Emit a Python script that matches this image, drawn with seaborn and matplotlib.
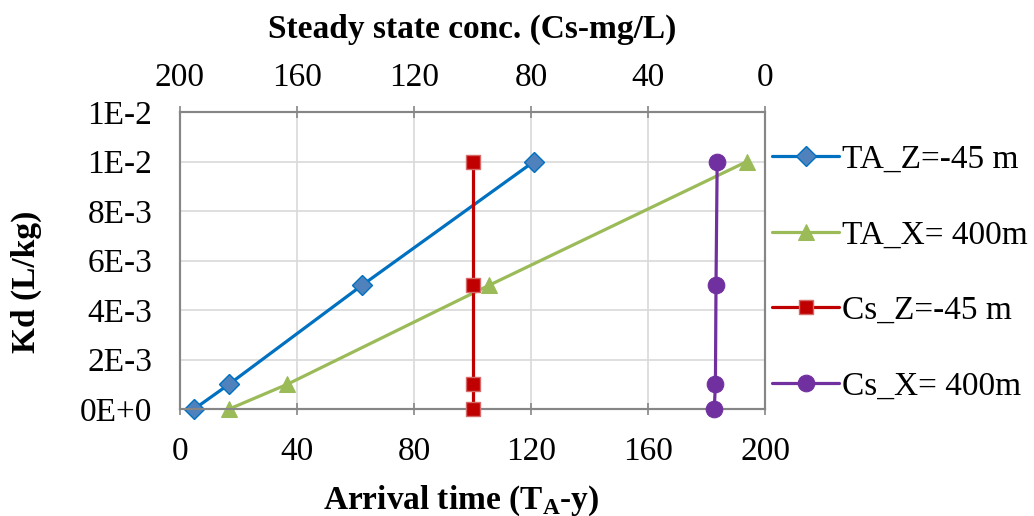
import matplotlib
matplotlib.use("Agg")
import matplotlib.pyplot as plt
import seaborn as sns
import numpy as np
import pandas as pd
from matplotlib.ticker import FuncFormatter, FixedLocator

# ---- data ----
kd_ta_z = [0.0, 0.001, 0.005, 0.010]
ta_z = [4.8, 16.7, 62.2, 121.0]
kd_ta_x = [0.0, 0.001, 0.005, 0.010]
ta_x = [16.7, 36.6, 105.6, 193.8]
kd_cs_z = [0.0, 0.001, 0.005, 0.010]
cs_z = [100.0, 100.0, 100.0, 100.0]
kd_cs_x = [0.0, 0.001, 0.005, 0.010]
cs_x = [17.4, 17.0, 16.8, 16.4]

labels = ["TA_Z=-45 m", "TA_X= 400m", "Cs_Z=-45 m", "Cs_X= 400m"]
bottom_ticks = [0, 40, 80, 120, 160, 200]
top_ticks = [200, 160, 120, 80, 40, 0]
y_ticks = [0.0, 0.002, 0.004, 0.006, 0.008, 0.010, 0.012]

sns.set_theme(style="white")
plt.rcParams["font.family"] = ["Liberation Serif", "DejaVu Serif"]
plt.rcParams["mathtext.fontset"] = "custom"
plt.rcParams["mathtext.rm"] = "Liberation Serif"
plt.rcParams["mathtext.bf"] = "Liberation Serif:bold"
plt.rcParams["text.color"] = "black"
plt.rcParams["axes.labelcolor"] = "black"

FS = 24
fig = plt.figure(figsize=(10.34, 5.16), dpi=100)
ax = fig.add_axes([0.174, 0.207, 0.566, 0.576])
ax2 = ax.twiny()

grid_c = "#D9D9D9"
spine_c = "#868686"

blue, blue_fill = "#0070C0", "#4F81BD"
green = "#9BBB59"
red = "#C00000"
purple = "#7030A0"

df1 = pd.DataFrame({"x": ta_z, "y": kd_ta_z})
df2 = pd.DataFrame({"x": ta_x, "y": kd_ta_x})
df3 = pd.DataFrame({"x": cs_z, "y": kd_cs_z})
df4 = pd.DataFrame({"x": cs_x, "y": kd_cs_x})

common = dict(estimator=None, sort=False, linewidth=2.3, clip_on=False, zorder=5)
sns.lineplot(data=df1, x="x", y="y", ax=ax, color=blue, marker="D",
             markerfacecolor=blue_fill, markeredgecolor=blue, markeredgewidth=1,
             markersize=10, label=labels[0], **common)
sns.lineplot(data=df2, x="x", y="y", ax=ax, color=green, marker="^",
             markerfacecolor=green, markeredgecolor=green, markersize=12,
             label=labels[1], **common)
sns.lineplot(data=df3, x="x", y="y", ax=ax2, color=red, marker="s",
             markerfacecolor=red, markeredgecolor="#D46A6A", markeredgewidth=1,
             markersize=10.5, label=labels[2], **common)
sns.lineplot(data=df4, x="x", y="y", ax=ax2, color=purple, marker="o",
             markerfacecolor=purple, markeredgecolor=purple, markersize=12,
             label=labels[3], **common)

ax.set_xlim(0, 200)
ax.set_ylim(0, 0.012)
ax2.set_xlim(200, 0)
ax.xaxis.set_major_locator(FixedLocator(bottom_ticks))
ax2.xaxis.set_major_locator(FixedLocator(top_ticks))
ax.yaxis.set_major_locator(FixedLocator(y_ticks))

def yfmt(v, pos):
    s = f"{v:.0E}"
    mant, exp = s.split("E")
    sign = exp[0]
    num = str(int(exp[1:]))
    return f"{mant}E{sign}{num}"

ax.yaxis.set_major_formatter(FuncFormatter(yfmt))
ax.xaxis.set_major_formatter(FuncFormatter(lambda v, p: f"{int(v)}"))
ax2.xaxis.set_major_formatter(FuncFormatter(lambda v, p: f"{int(v)}"))

ax.grid(True, color=grid_c, linewidth=1.2)
ax.set_axisbelow(True)
ax2.grid(False)

for a in (ax, ax2):
    for s in a.spines.values():
        s.set_color(spine_c)
        s.set_linewidth(1.5)
    a.tick_params(axis="both", labelsize=FS, labelcolor="black", direction="inout",
                  length=9, width=1.2, color=spine_c)
ax.tick_params(axis="x", pad=15)
ax.tick_params(axis="y", pad=14, direction="out", length=6)
ax2.tick_params(axis="x", pad=9)

ax.set_xlabel(r"Arrival time (T$_\mathbf{A}$-y)", fontsize=FS, fontweight="bold")
ax.xaxis.set_label_coords(0.48, -0.249)
ax.set_ylabel("Kd (L/kg)", fontsize=FS, fontweight="bold")
ax.yaxis.set_label_coords(-0.236, 0.428)
ax2.set_xlabel("Steady state conc. (Cs-mg/L)", fontsize=FS, fontweight="bold", labelpad=18)

h1, l1 = ax.get_legend_handles_labels()
h2, l2 = ax2.get_legend_handles_labels()
for a in (ax, ax2):
    if a.get_legend() is not None:
        a.get_legend().remove()
fig.legend(h1 + h2, l1 + l2, loc="center left", bbox_to_anchor=(0.734, 0.471),
           frameon=False, fontsize=FS, labelspacing=1.35, handlelength=2.0,
           handletextpad=0.1, borderaxespad=0)

fig.savefig("out.png", dpi=100)
